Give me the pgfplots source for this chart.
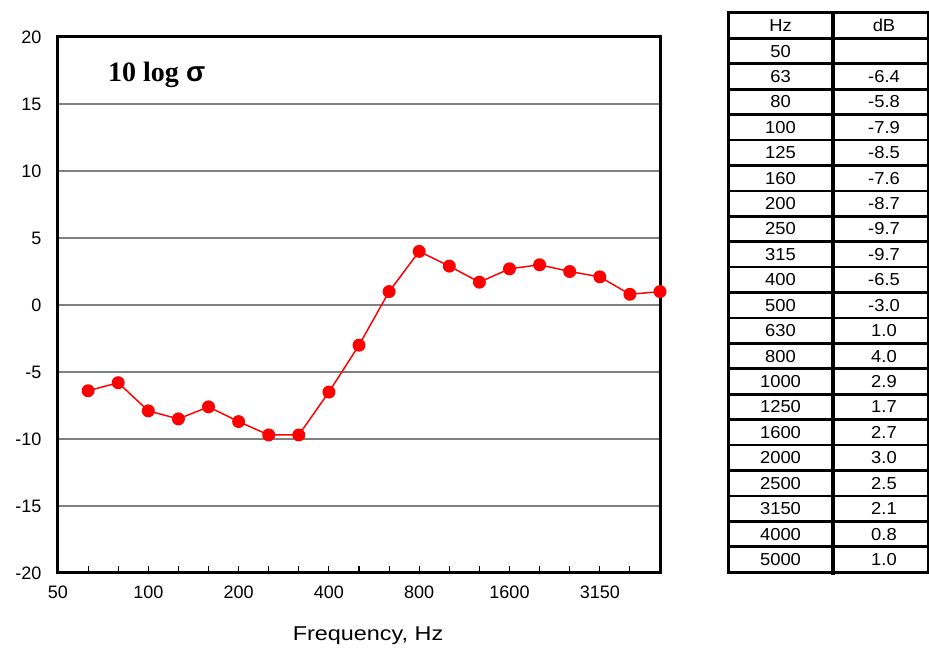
\documentclass[border=0pt]{standalone}
\usepackage{pgfplots}
\pgfplotsset{compat=1.18}
\usepackage{graphicx}
\usepackage{fontspec}
\setmainfont{Liberation Sans}
\newfontfamily\seriffont{Liberation Serif}
\begin{document}
\begin{tikzpicture}[x=1pt,y=1pt]
\useasboundingbox (-43.5,-57) rectangle (653.25,429.75);
\begin{axis}[at={(0,0)}, anchor=south west, scale only axis,
  width=451.5pt, height=402pt,
  xmin=0, xmax=20, ymin=-20, ymax=20,
  xtick={0,3,...,18}, xticklabels={50,100,200,400,800,1600,3150},
  minor xtick={0,...,20},
  xtick pos=bottom,
  ytick={-20,-15,...,20},
  ymajorgrids, major grid style={draw={rgb,255:red,128;green,128;blue,128}, line width=1.1pt},
  axis line style={line width=2.25pt},
  tick align=inside, major tick length=5pt, minor tick length=5pt,
  tick style={black, line width=0.8pt},
  ytick style={draw=none},
  xticklabel style={yshift=-6pt}, yticklabel style={xshift=-9pt},
  ticklabel style={font=\fontsize{13.5}{16}\selectfont},
  /pgf/number format/assume math mode=true,
  clip=false,
]
\addplot[red, line width=1.1pt, mark=*, mark size=4.3pt, mark options={fill=red, draw=red}]
  coordinates {(1,-6.4) (2,-5.8) (3,-7.9) (4,-8.5) (5,-7.6) (6,-8.7) (7,-9.7) (8,-9.7)
  (9,-6.5) (10,-3.0) (11,1.0) (12,4.0) (13,2.9) (14,1.7) (15,2.7) (16,3.0) (17,2.5)
  (18,2.1) (19,0.8) (20,1.0)};
\node[anchor=west, inner sep=0pt, font=\seriffont\bfseries\fontsize{21}{24}\selectfont]
  at (rel axis cs:0.083,0.929) {10 log {\rmfamily σ}};
\node[font=\fontsize{15}{18}\selectfont] at (rel axis cs:0.515,0) [yshift=-47.25pt] {\scalebox{1.17}[1]{Frequency, Hz}};
\end{axis}
% data table beside the chart
\foreach \hz/\db [count=\i] in {Hz/dB,50/{},63/-6.4,80/-5.8,100/-7.9,125/-8.5,160/-7.6,200/-8.7,250/-9.7,315/-9.7,400/-6.5,500/-3.0,630/1.0,800/4.0,1000/2.9,1250/1.7,1600/2.7,2000/3.0,2500/2.5,3150/2.1,4000/0.8,5000/1.0}{
  \node[font=\fontsize{13}{15}\selectfont] at (541.9, {420-(\i-0.5)*19.0625}) {\scalebox{1.06}[1]{\hz}};
  \node[font=\fontsize{13}{15}\selectfont] at (619.5, {420-(\i-0.5)*19.0625}) {\scalebox{1.06}[1]{\db}};
}
\foreach \k in {1,...,21}{
  \draw[line width=2pt] (502.5,{420-\k*19.0625}) -- (652.5,{420-\k*19.0625});
}
\draw[line width=2.25pt] (502.5,0.6) rectangle (652.5,420);
\draw[line width=3pt] (581.25,420) -- (581.25,-1.5);
\end{tikzpicture}
\end{document}
